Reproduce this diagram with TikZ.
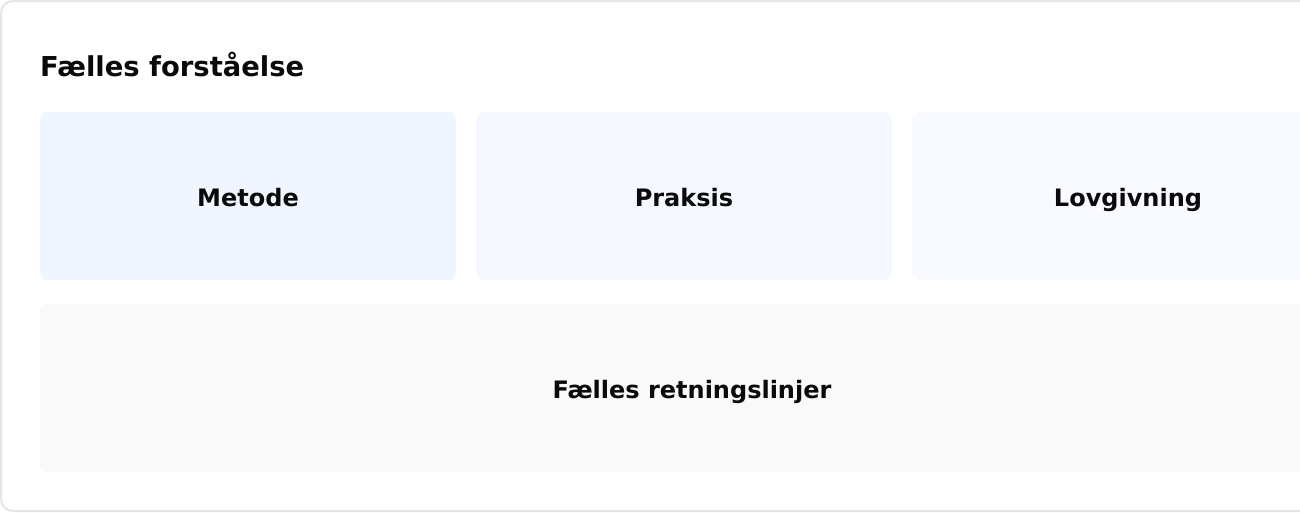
\documentclass[tikz,border=0pt]{standalone}
\usepackage{fontspec}
\setmainfont{DejaVu Sans}
\definecolor{outerline}{HTML}{E6E6E6}
\definecolor{boxA}{HTML}{F0F5FF}
\definecolor{boxB}{HTML}{F5F8FF}
\definecolor{boxC}{HTML}{F9FAFF}
\definecolor{boxD}{HTML}{F9F9F9}
\definecolor{ink}{HTML}{0A0A0A}
\begin{document}
\begin{tikzpicture}[x=1pt,y=-1pt,
  tile/.style={rounded corners=8pt},
  label/.style={anchor=base,inner sep=0pt,text=ink,font=\bfseries\fontsize{24}{28}\selectfont},
  heading/.style={anchor=base west,inner sep=0pt,text=ink,font=\bfseries\fontsize{27.4}{32}\selectfont}]
\useasboundingbox (0,0) rectangle (1300,512);
\fill[white] (0,0) rectangle (1300,512);
\draw[outerline,line width=2pt,rounded corners=12pt] (1,1) rectangle (1390,511);
\node[heading] (title) at (40,76) {Fælles forståelse};
\fill[boxA,tile] (40,112) rectangle (456,280);
\fill[boxB,tile] (476,112) rectangle (892,280);
\fill[boxC,tile] (912,112) rectangle (1344,280);
\fill[boxD,tile] (40,304) rectangle (1344,472);
\node[label] (metode) at (248,206) {Metode};
\node[label] (praksis) at (684,206) {Praksis};
\node[label] (lov) at (1128,206) {Lovgivning};
\node[label] (faelles) at (692,398) {Fælles retningslinjer};
\end{tikzpicture}
\end{document}
